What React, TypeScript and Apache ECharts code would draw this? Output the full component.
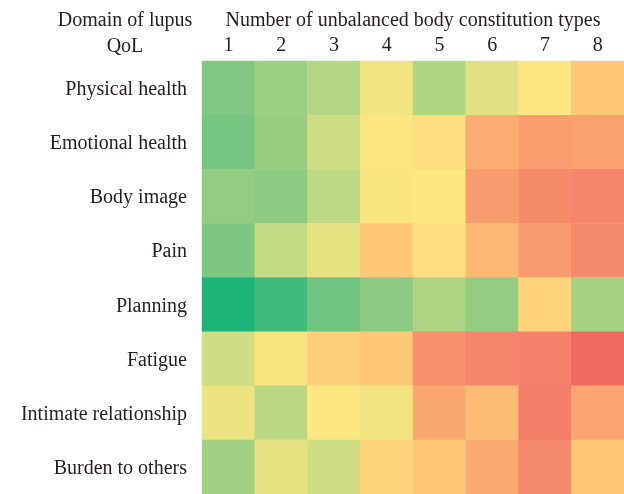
import React, { useEffect, useRef } from "react";
import * as echarts from "echarts";

const columns = ["1", "2", "3", "4", "5", "6", "7", "8"];
const domains = [
  "Physical health",
  "Emotional health",
  "Body image",
  "Pain",
  "Planning",
  "Fatigue",
  "Intimate relationship",
  "Burden to others",
];
const physical = [25, 32, 37, 48, 36, 45, 50, 64];
const emotional = [22, 31, 42, 50, 54, 74, 79, 78];
const bodyImage = [30, 28, 39, 49, 50, 80, 86, 88];
const pain = [24, 40, 46, 64, 54, 70, 80, 87];
const planning = [0, 10, 20, 28, 35, 30, 59, 34];
const fatigue = [42, 49, 61, 64, 84, 88, 90, 100];
const intimate = [47, 38, 50, 48, 76, 69, 91, 77];
const burden = [33, 46, 42, 59, 64, 75, 87, 64];
const rows = [physical, emotional, bodyImage, pain, planning, fatigue, intimate, burden];

const palette = [
  "#1db47a", "#3fbb7b", "#6fc482", "#94cc82", "#c3db84", "#fee680",
  "#fed27a", "#fdb973", "#f89b6e", "#f4816a", "#f06a60",
];

const FONT = "Liberation Serif";
const SIZE = 20;
const TXT = "#231f20";

export default function App() {
  const ref = useRef<HTMLDivElement>(null);
  useEffect(() => {
    if (!ref.current) return;
    const chart = echarts.init(ref.current, null, { renderer: "svg" });
    const data: number[][] = [];
    rows.forEach((r, yi) => r.forEach((v, xi) => data.push([xi, yi, v])));
    const txt = (text: string, x: number, y: number) => ({
      type: "text",
      x,
      y,
      style: {
        text,
        font: `${SIZE}px "${FONT}"`,
        fill: TXT,
        textAlign: "center",
        textVerticalAlign: "middle",
      },
    });
    chart.setOption({
      animation: false,
      textStyle: { fontFamily: FONT },
      grid: { left: 202, top: 61, width: 424, height: 435 },
      xAxis: {
        type: "category",
        data: columns,
        position: "top",
        axisLine: { show: false },
        axisTick: { show: false },
        splitArea: { show: false },
        axisLabel: { fontFamily: FONT, fontSize: SIZE, color: TXT, margin: 7 },
      },
      yAxis: {
        type: "category",
        data: domains,
        inverse: true,
        axisLine: { show: false },
        axisTick: { show: false },
        axisLabel: { fontFamily: FONT, fontSize: SIZE, color: TXT, margin: 15 },
      },
      visualMap: {
        show: false,
        type: "continuous",
        min: 0,
        max: 100,
        inRange: { color: palette },
      },
      graphic: [
        txt("Domain of lupus", 125, 19),
        txt("QoL", 125, 45),
        txt("Number of unbalanced body constitution types", 413, 19),
      ],
      series: [
        {
          type: "heatmap",
          data,
          itemStyle: { borderWidth: 0 },
          emphasis: { disabled: true },
        },
      ],
    });
    return () => chart.dispose();
  }, []);
  return (
    <div
      ref={ref}
      style={{ position: "fixed", left: 0, top: 0, width: 624, height: 494 }}
    />
  );
}
